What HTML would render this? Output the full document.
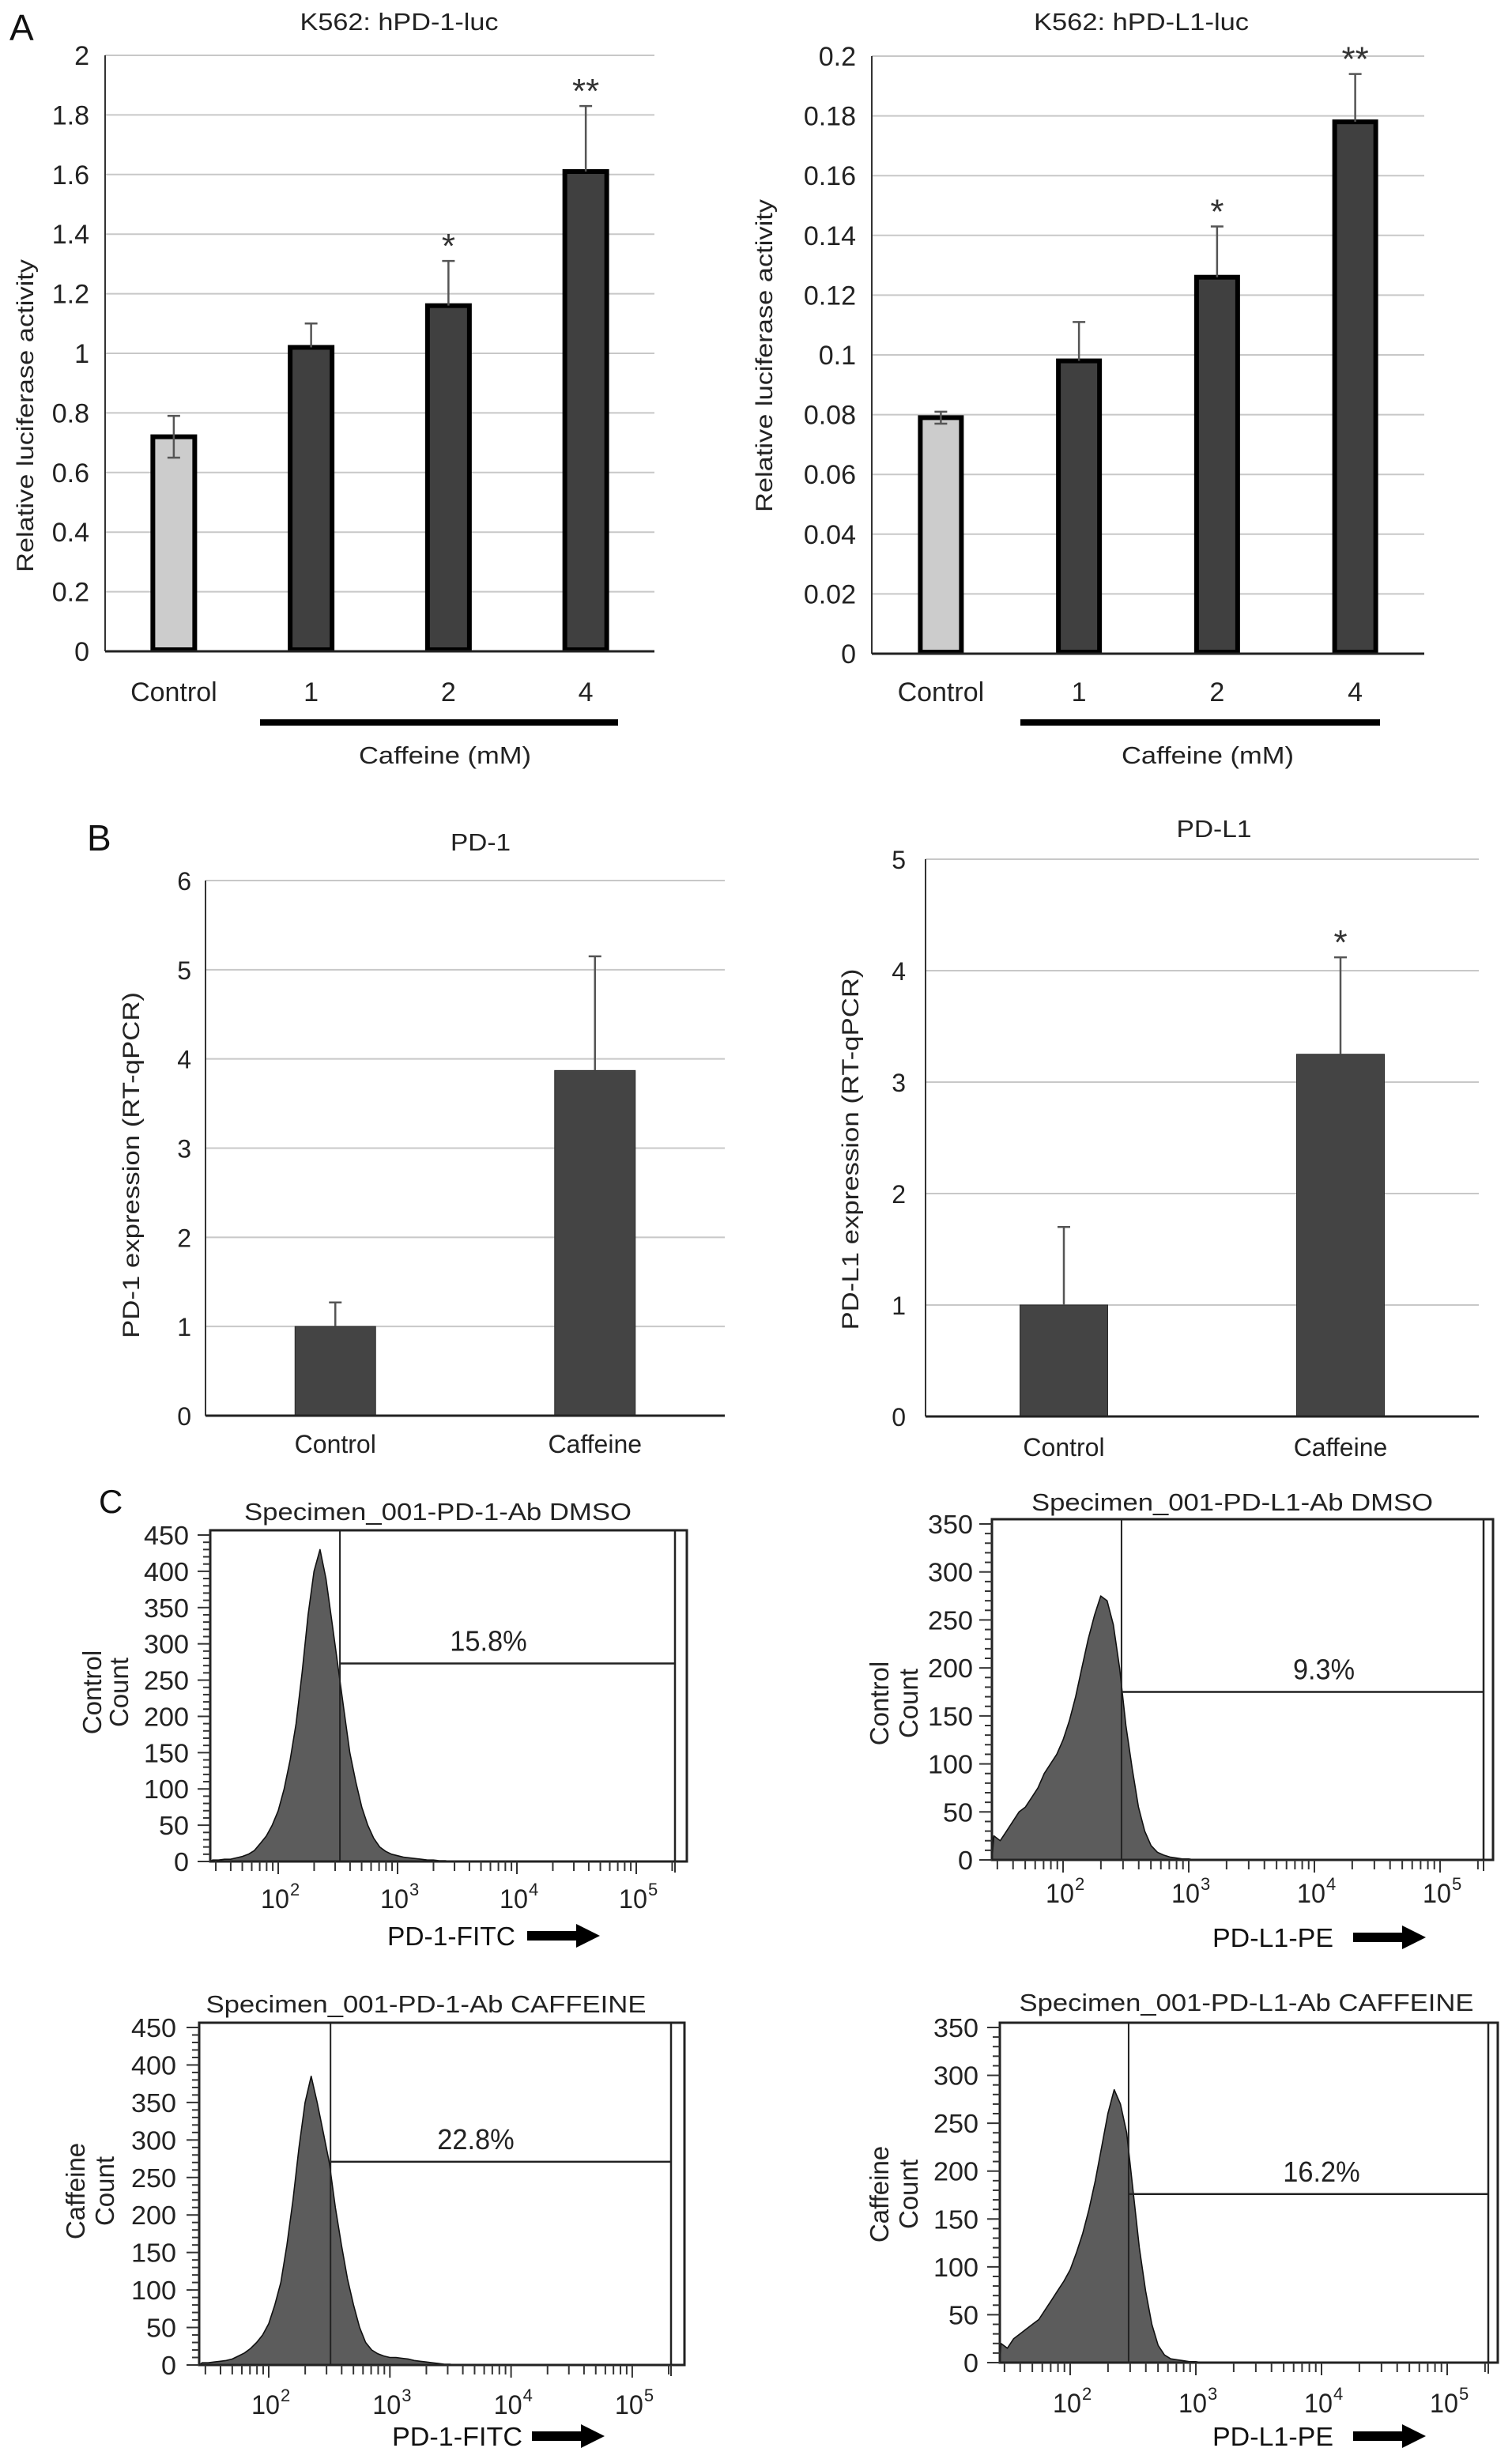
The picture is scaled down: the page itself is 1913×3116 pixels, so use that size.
<!DOCTYPE html>
<html><head><meta charset="utf-8"><style>
html,body{margin:0;padding:0;background:#fff;}
svg{display:block;font-family:"Liberation Sans",Arial,sans-serif;}
</style></head>
<body>
<svg id="fig" xmlns="http://www.w3.org/2000/svg" width="1913" height="3116" viewBox="0 0 1913 3116">
<rect width="1913" height="3116" fill="#fff"/>
<text x="12" y="51" font-size="46" fill="#111">A</text>
<text x="110" y="1076" font-size="46" fill="#111">B</text>
<text x="125" y="1914" font-size="42" fill="#111">C</text>
</svg>
<script>
// ---------- data: Panel A ----------
const aLeftCats = ['Control','1','2','4'];
const aLeftVals = [0.72, 1.02, 1.16, 1.61];
const aLeftErr = [0.07, 0.08, 0.15, 0.22];
const aLeftStars = ['', '', '*', '**'];
const aLeftTicks = [0,0.2,0.4,0.6,0.8,1,1.2,1.4,1.6,1.8,2];
const aLeftTickLabels = ['0','0.2','0.4','0.6','0.8','1','1.2','1.4','1.6','1.8','2'];

const aRightCats = ['Control','1','2','4'];
const aRightVals = [0.079, 0.098, 0.126, 0.178];
const aRightErr = [0.002, 0.013, 0.017, 0.016];
const aRightStars = ['', '', '*', '**'];
const aRightTicks = [0,0.02,0.04,0.06,0.08,0.1,0.12,0.14,0.16,0.18,0.2];
const aRightTickLabels = ['0','0.02','0.04','0.06','0.08','0.1','0.12','0.14','0.16','0.18','0.2'];

// ---------- data: Panel B ----------
const bLeftCats = ['Control','Caffeine'];
const bLeftVals = [1.0, 3.87];
const bLeftErr = [0.27, 1.28];
const bLeftStars = ['', ''];
const bLeftTicks = [0,1,2,3,4,5,6];
const bLeftTickLabels = ['0','1','2','3','4','5','6'];

const bRightCats = ['Control','Caffeine'];
const bRightVals = [1.0, 3.25];
const bRightErr = [0.7, 0.87];
const bRightStars = ['', '*'];
const bRightTicks = [0,1,2,3,4,5];
const bRightTickLabels = ['0','1','2','3','4','5'];

// ---------- data: Panel C (flow histograms) ----------
const binLogs = [1.45,1.5,1.55,1.6,1.65,1.7,1.75,1.8,1.85,1.9,1.95,2.0,2.05,2.1,2.15,2.2,2.25,2.3,2.35,2.4,2.45,2.5,2.55,2.6,2.65,2.7,2.75,2.8,2.85,2.9,2.95,3.0,3.05,3.1,3.15,3.2,3.25,3.3,3.35,3.4,3.45,3.5];
const cPd1DmsoCounts = [2,2,3,3,5,7,10,15,25,35,50,70,100,140,190,260,340,400,430,390,330,270,210,150,110,75,50,32,20,14,10,8,6,5,4,3,2,2,1,1,0,0];
const cPd1CafCounts = [3,3,4,5,6,8,12,16,22,30,40,55,80,110,160,220,290,350,385,350,310,270,210,160,115,80,50,30,20,15,12,10,10,9,8,6,5,4,3,2,1,1];
const cPdl1DmsoCounts = [25,20,30,40,50,55,65,75,90,100,110,125,145,170,200,230,255,275,270,245,200,140,95,55,30,15,8,5,3,2,1,1,0,0,0,0,0,0,0,0,0,0];
const cPdl1CafCounts = [20,15,25,30,35,40,45,55,65,75,85,97,115,135,160,190,225,260,285,270,240,180,120,75,40,18,8,4,3,2,1,1,0,0,0,0,0,0,0,0,0,0];
const pd1YTicks = [0,50,100,150,200,250,300,350,400,450];
const pdl1YTicks = [0,50,100,150,200,250,300,350];
const decadeLabels = ['2','3','4','5'];
const decadeValues = [2,3,4,5];
const gatePercents = ['15.8%','22.8%','9.3%','16.2%'];
const gateCounts = [273, 271, 175, 176];
const gateLogs = [2.517, 2.51, 2.465, 2.465];

const NS = 'http://www.w3.org/2000/svg';
const svg = document.getElementById('fig');
function mk(tag, attrs, parent) {
  const el = document.createElementNS(NS, tag);
  for (const k in attrs) el.setAttribute(k, attrs[k]);
  (parent || svg).appendChild(el);
  return el;
}
function txt(str, attrs, name) {
  const el = mk('text', attrs);
  el.textContent = str;
  
  
  return el;
}

function barChart(cfg, cats, vals, errs, stars, ticks, tickLabels) {
  const g = mk('g', {});
  
  
  const y = v => cfg.y0 - (v - ticks[0]) / (ticks[ticks.length-1] - ticks[0]) * (cfg.y0 - cfg.yTop);
  const band = (cfg.right - cfg.left) / cats.length;
  const xc = i => cfg.left + (i + 0.5) * band;
  ticks.forEach((t, i) => {
    if (i > 0) {
      const gl = mk('line', {x1: cfg.left, x2: cfg.right, y1: y(t), y2: y(t), stroke: '#c8c8c8', 'stroke-width': 2}, g);
      
      
    }
    txt(tickLabels[i], {x: cfg.tickRight, y: y(t) + 12, 'font-size': cfg.tickFont, 'text-anchor': 'end', fill: '#222'}, 'y-tick-label');
  });
  const ya = mk('line', {x1: cfg.left, x2: cfg.left, y1: cfg.yTop, y2: cfg.y0, stroke: '#333', 'stroke-width': 2}, g);
  
  
  cats.forEach((c, i) => {
    const w = cfg.barW;
    let r;
    if (cfg.outline) {
      r = mk('rect', {x: xc(i) - w/2 + 3, y: y(vals[i]), width: w - 6, height: cfg.y0 - y(vals[i]) - 2, fill: cfg.fills[i], stroke: '#000', 'stroke-width': 6}, g);
    } else {
      r = mk('rect', {x: xc(i) - w/2, y: y(vals[i]), width: w, height: cfg.y0 - y(vals[i]), fill: cfg.fills[i], stroke: '#2a2a2a', 'stroke-width': 1}, g);
    }
    
    
    const top = y(vals[i] + errs[i]);
    const lo = cfg.bothErr[i] ? y(vals[i] - errs[i]) : y(vals[i]);
    const e = mk('path', {d: `M${xc(i)},${lo}V${top}M${xc(i)-8},${top}H${xc(i)+8}` + (cfg.bothErr[i] ? `M${xc(i)-8},${lo}H${xc(i)+8}` : ''), stroke: '#555', 'stroke-width': 2.5, fill: 'none'}, g);
    
    
    if (stars[i]) txt(stars[i], {x: xc(i), y: top - 4, 'font-size': 44, 'text-anchor': 'middle', fill: '#333'}, 'significance-star');
    txt(c, {x: xc(i), y: cfg.labelY, 'font-size': cfg.labelFont, 'text-anchor': 'middle', fill: '#222'}, 'x-tick-label');
  });
  const xa = mk('line', {x1: cfg.left, x2: cfg.right, y1: cfg.y0, y2: cfg.y0, stroke: '#222', 'stroke-width': 3}, g);
  
  
  txt(cfg.title, {x: cfg.titleX, y: cfg.titleY, 'font-size': 31, 'text-anchor': 'middle', fill: '#222', textLength: cfg.titleW, lengthAdjust: 'spacingAndGlyphs'}, 'chart-title');
  txt(cfg.yTitle, {x: 0, y: 0, 'font-size': 30, 'text-anchor': 'middle', fill: '#222', textLength: cfg.yTitleW, lengthAdjust: 'spacingAndGlyphs', transform: `translate(${cfg.yTitleX},${cfg.yTitleY}) rotate(-90)`}, 'y-axis-title');
  if (cfg.caf) {
    const cl = mk('rect', {x: cfg.caf.x1, y: cfg.caf.y - 4, width: cfg.caf.x2 - cfg.caf.x1, height: 8, fill: '#000'}, g);
    
    
    txt('Caffeine (mM)', {x: cfg.caf.tx, y: cfg.caf.ty, 'font-size': 31, 'text-anchor': 'middle', fill: '#222', textLength: 218, lengthAdjust: 'spacingAndGlyphs'}, 'x-axis-title');
  }
}

barChart({name: 'chart-hpd1-luc', left: 133, right: 828, y0: 824, yTop: 70, tickRight: 113, tickFont: 34, barW: 59, outline: true,
  fills: ['#cccccc','#404040','#404040','#404040'], bothErr: [true,false,false,false], labelY: 887, labelFont: 34,
  title: 'K562: hPD-1-luc', titleX: 505, titleY: 38, titleW: 251, yTitle: 'Relative luciferase activity', yTitleX: 42, yTitleY: 526, yTitleW: 396,
  caf: {x1: 329, x2: 782, y: 914, tx: 563, ty: 966}}, aLeftCats, aLeftVals, aLeftErr, aLeftStars, aLeftTicks, aLeftTickLabels);
barChart({name: 'chart-hpdl1-luc', left: 1103, right: 1802, y0: 827, yTop: 71, tickRight: 1083, tickFont: 34, barW: 58, outline: true,
  fills: ['#cccccc','#404040','#404040','#404040'], bothErr: [true,false,false,false], labelY: 887, labelFont: 34,
  title: 'K562: hPD-L1-luc', titleX: 1444, titleY: 38, titleW: 272, yTitle: 'Relative luciferase activity', yTitleX: 977, yTitleY: 450, yTitleW: 396,
  caf: {x1: 1291, x2: 1746, y: 914, tx: 1528, ty: 966}}, aRightCats, aRightVals, aRightErr, aRightStars, aRightTicks, aRightTickLabels);
barChart({name: 'chart-pd1-qpcr', left: 260, right: 917, y0: 1791, yTop: 1114, tickRight: 242, tickFont: 32, barW: 102, outline: false,
  fills: ['#444444','#444444'], bothErr: [false,false], labelY: 1838, labelFont: 32,
  title: 'PD-1', titleX: 608, titleY: 1076, titleW: 76, yTitle: 'PD-1 expression (RT-qPCR)', yTitleX: 176, yTitleY: 1474, yTitleW: 438}, bLeftCats, bLeftVals, bLeftErr, bLeftStars, bLeftTicks, bLeftTickLabels);
barChart({name: 'chart-pdl1-qpcr', left: 1171, right: 1871, y0: 1792, yTop: 1087, tickRight: 1146, tickFont: 32, barW: 111, outline: false,
  fills: ['#444444','#444444'], bothErr: [false,false], labelY: 1842, labelFont: 32,
  title: 'PD-L1', titleX: 1536, titleY: 1059, titleW: 95, yTitle: 'PD-L1 expression (RT-qPCR)', yTitleX: 1086, yTitleY: 1454, yTitleW: 457}, bRightCats, bRightVals, bRightErr, bRightStars, bRightTicks, bRightTickLabels);

function flow(cfg, counts, yTicks, idx) {
  const g = mk('g', {});
  
  
  const yMax = yTicks[yTicks.length - 1];
  const y = c => cfg.y0 - c / yMax * (cfg.y0 - cfg.yTopVal);
  const x = l => cfg.x2 + (l - 2) * cfg.dec;
  const leftLog = 2 - (cfg.x2 - cfg.L) / cfg.dec;
  const rightLog = 2 + (cfg.innerR - cfg.x2) / cfg.dec;
  const top = cfg.yTopVal - 6;
  let d = `M${cfg.L},${cfg.y0}`;
  binLogs.forEach((l, i) => { d += `L${Math.max(cfg.L, x(l)).toFixed(1)},${y(counts[i]).toFixed(1)}`; });
  d += `L${x(binLogs[binLogs.length-1]).toFixed(1)},${cfg.y0}Z`;
  const h = mk('path', {d: d, fill: '#5c5c5c', stroke: '#111', 'stroke-width': 1.6, 'stroke-linejoin': 'round'}, g);
  
  
  const box = mk('rect', {x: cfg.L, y: top, width: cfg.R - cfg.L, height: cfg.y0 - top, fill: 'none', stroke: '#222', 'stroke-width': 3}, g);
  
  
  const ir = mk('line', {x1: cfg.innerR, x2: cfg.innerR, y1: top, y2: cfg.y0, stroke: '#222', 'stroke-width': 2.5}, g);
  
  
  const gx = x(gateLogs[idx]);
  const gv = mk('line', {x1: gx, x2: gx, y1: top, y2: cfg.y0, stroke: '#222', 'stroke-width': 2}, g);
  
  
  const gh = mk('line', {x1: gx, x2: cfg.innerR, y1: y(gateCounts[idx]), y2: y(gateCounts[idx]), stroke: '#222', 'stroke-width': 2.5}, g);
  
  
  txt(gatePercents[idx], {x: cfg.pctX, y: y(gateCounts[idx]) - 16, 'font-size': 36, 'text-anchor': 'middle', fill: '#222', textLength: gatePercents[idx].length * 19.5, lengthAdjust: 'spacingAndGlyphs'}, 'gate-percentage');
  for (let c = 0; c <= yMax; c += 10) {
    const major = c % 50 === 0;
    const t = mk('line', {x1: cfg.L - (major ? 16 : 9), x2: cfg.L, y1: y(c), y2: y(c), stroke: '#333', 'stroke-width': 2}, g);
    
    
  }
  yTicks.forEach(v => {
    const s = String(v);
    txt(s, {x: cfg.tickRight, y: y(v) + 12, 'font-size': 33, 'text-anchor': 'end', fill: '#222', textLength: s.length * 19, lengthAdjust: 'spacingAndGlyphs'}, 'y-tick-label');
  });
  for (let dd = 1; dd <= 5; dd++) {
    for (let m = 1; m <= 9; m++) {
      const l = dd + Math.log10(m);
      if (l < leftLog + 0.02 || l > rightLog) continue;
      const t = mk('line', {x1: x(l), x2: x(l), y1: cfg.y0, y2: cfg.y0 + (m === 1 ? 16 : 12), stroke: '#333', 'stroke-width': 2}, g);
      
      
    }
  }
  const rt = mk('line', {x1: cfg.innerR, x2: cfg.innerR, y1: cfg.y0, y2: cfg.y0 + 14, stroke: '#333', 'stroke-width': 2}, g);
  
  
  decadeValues.forEach((v, i) => {
    txt('10', {x: x(v) - 4, y: cfg.tickY + 2, 'font-size': 34, 'text-anchor': 'middle', fill: '#222', textLength: 36, lengthAdjust: 'spacingAndGlyphs'}, 'x-tick-label');
    txt(decadeLabels[i], {x: x(v) + 15, y: cfg.tickY - 14, 'font-size': 22, fill: '#222'}, 'x-tick-exponent');
  });
  txt(cfg.title, {x: cfg.titleX, y: cfg.titleY + 11, 'font-size': 31, 'text-anchor': 'middle', fill: '#222', textLength: cfg.titleW, lengthAdjust: 'spacingAndGlyphs'}, 'chart-title');
  txt(cfg.yTitle1, {x: 0, y: 0, 'font-size': 33, 'text-anchor': 'middle', fill: '#222', transform: `translate(${cfg.yt1 + 12},${cfg.ytY}) rotate(-90)`}, 'y-axis-title');
  txt('Count', {x: 0, y: 0, 'font-size': 33, 'text-anchor': 'middle', fill: '#222', transform: `translate(${cfg.yt2 + 12},${cfg.ytY}) rotate(-90)`}, 'y-axis-title');
  txt(cfg.xTitle, {x: cfg.xtX1, y: cfg.xtY + 12, 'font-size': 33, fill: '#111', textLength: cfg.xtX2 - cfg.xtX1, lengthAdjust: 'spacingAndGlyphs'}, 'x-axis-title');
  const a = cfg.arX1, b = cfg.arX2, cy = cfg.xtY;
  const head = b - 30;
  const ar = mk('polygon', {points: `${a},${cy-6} ${head},${cy-6} ${head},${cy-15} ${b},${cy} ${head},${cy+15} ${head},${cy+6} ${a},${cy+6}`, fill: '#000'}, g);
  
  
}

flow({name: 'histogram-pd1-dmso', L: 266, R: 869, innerR: 854, y0: 2355, yTopVal: 1942, x2: 352, dec: 151, pctX: 618, tickRight: 239, tickY: 2412,
  title: 'Specimen_001-PD-1-Ab DMSO', titleX: 554, titleY: 1912, titleW: 490, yTitle1: 'Control', yt1: 116, yt2: 150, ytY: 2141,
  xTitle: 'PD-1-FITC', xtX1: 490, xtX2: 652, xtY: 2449, arX1: 667, arX2: 759}, cPd1DmsoCounts, pd1YTicks, 0);
flow({name: 'histogram-pd1-caffeine', L: 252, R: 866, innerR: 849, y0: 2992, yTopVal: 2565, x2: 340, dec: 153.3, pctX: 602, tickRight: 223, tickY: 3052,
  title: 'Specimen_001-PD-1-Ab CAFFEINE', titleX: 539, titleY: 2535, titleW: 557, yTitle1: 'Caffeine', yt1: 95, yt2: 132, ytY: 2772,
  xTitle: 'PD-1-FITC', xtX1: 496, xtX2: 661, xtY: 3082, arX1: 673, arX2: 765}, cPd1CafCounts, pd1YTicks, 1);
flow({name: 'histogram-pdl1-dmso', L: 1255, R: 1889, innerR: 1877, y0: 2353, yTopVal: 1928, x2: 1345, dec: 159, pctX: 1675, tickRight: 1231, tickY: 2405,
  title: 'Specimen_001-PD-L1-Ab DMSO', titleX: 1559, titleY: 1900, titleW: 508, yTitle1: 'Control', yt1: 1112, yt2: 1149, ytY: 2155,
  xTitle: 'PD-L1-PE', xtX1: 1534, xtX2: 1687, xtY: 2451, arX1: 1712, arX2: 1804}, cPdl1DmsoCounts, pdl1YTicks, 2);
flow({name: 'histogram-pdl1-caffeine', L: 1265, R: 1895, innerR: 1883, y0: 2989, yTopVal: 2565, x2: 1354, dec: 159, pctX: 1672, tickRight: 1238, tickY: 3050,
  title: 'Specimen_001-PD-L1-Ab CAFFEINE', titleX: 1577, titleY: 2533, titleW: 575, yTitle1: 'Caffeine', yt1: 1112, yt2: 1149, ytY: 2776,
  xTitle: 'PD-L1-PE', xtX1: 1534, xtX2: 1687, xtY: 3082, arX1: 1712, arX2: 1804}, cPdl1CafCounts, pdl1YTicks, 3);
</script>
</body></html>
